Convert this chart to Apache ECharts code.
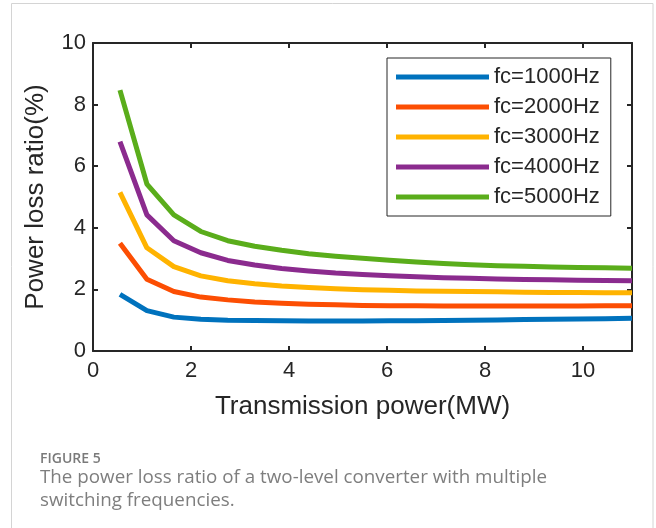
<!DOCTYPE html>
<html>
<head>
<meta charset="utf-8">
<script src="https://cdn.jsdelivr.net/npm/echarts@6/dist/echarts.min.js"></script>
<style>
  html, body { margin: 0; padding: 0; background: #fff; }
  #chart { width: 656px; height: 528px; }
</style>
</head>
<body>
<div id="chart"></div>
<script>
// transmission power (MW)
const power = [0.55, 1.1, 1.65, 2.2, 2.75, 3.3, 3.85, 4.4, 4.95, 5.5,
  6.05, 6.6, 7.15, 7.7, 8.25, 8.8, 9.35, 9.9, 10.45, 11];

// power loss ratio (%) per switching frequency
const fc1000 = [1.84, 1.31, 1.10, 1.03, 1.00, 0.99, 0.98, 0.97, 0.97, 0.97,
  0.98, 0.98, 0.99, 1.00, 1.01, 1.02, 1.03, 1.04, 1.05, 1.06];
const fc2000 = [3.50, 2.33, 1.93, 1.75, 1.66, 1.59, 1.55, 1.52, 1.50, 1.48,
  1.47, 1.47, 1.46, 1.46, 1.46, 1.46, 1.46, 1.46, 1.47, 1.47];
const fc3000 = [5.15, 3.35, 2.74, 2.44, 2.28, 2.18, 2.11, 2.06, 2.02, 1.99,
  1.97, 1.95, 1.94, 1.93, 1.92, 1.91, 1.90, 1.90, 1.89, 1.89];
const fc4000 = [6.80, 4.42, 3.58, 3.19, 2.94, 2.79, 2.68, 2.60, 2.53, 2.48,
  2.44, 2.41, 2.38, 2.36, 2.34, 2.32, 2.31, 2.30, 2.29, 2.28];
const fc5000 = [8.47, 5.42, 4.42, 3.88, 3.58, 3.40, 3.27, 3.16, 3.08, 3.01,
  2.95, 2.89, 2.84, 2.80, 2.77, 2.75, 2.73, 2.71, 2.70, 2.69];

const seriesNames = ['fc=1000Hz', 'fc=2000Hz', 'fc=3000Hz', 'fc=4000Hz', 'fc=5000Hz'];
const seriesValues = [fc1000, fc2000, fc3000, fc4000, fc5000];
const colors = ['#0072BD', '#FC4E03', '#FFB300', '#8B2B8E', '#5AAD1B'];

const xTicks = { min: 0, max: 11, interval: 2 };
const yTicks = { min: 0, max: 10, interval: 2 };

const ink = '#262626';
const font = 'Liberation Sans, Arial, sans-serif';

const chart = echarts.init(document.getElementById('chart'), null, { renderer: 'canvas' });

// box axes like matlab: ticks inside on all four sides
function frameAxis(pos, range, labels) {
  return {
    type: 'value',
    position: pos,
    min: range.min,
    max: range.max,
    interval: range.interval,
    axisLine: { show: true, onZero: false, lineStyle: { color: ink, width: 2 } },
    axisTick: { show: true, inside: true, length: 5, lineStyle: { color: ink, width: 2 } },
    axisLabel: labels ? {
      show: true, color: ink, fontSize: 22, fontFamily: font,
      margin: pos === 'bottom' ? 9 : 7, showMaxLabel: pos !== 'bottom'
    } : { show: false },
    splitLine: { show: false }
  };
}

const xBottom = frameAxis('bottom', xTicks, true);
xBottom.name = 'Transmission power(MW)';
xBottom.nameLocation = 'middle';
xBottom.nameGap = 43;
xBottom.nameTextStyle = { color: ink, fontSize: 26, fontFamily: font };

const yLeft = frameAxis('left', yTicks, true);
yLeft.name = 'Power loss ratio(%)';
yLeft.nameLocation = 'middle';
yLeft.nameGap = 44;
yLeft.nameTextStyle = { color: ink, fontSize: 26, fontFamily: font };

chart.setOption({
  animation: false,
  backgroundColor: '#fff',
  grid: { left: 93, top: 43, width: 539, height: 308, containLabel: false },
  xAxis: [xBottom, frameAxis('top', xTicks, false)],
  yAxis: [yLeft, frameAxis('right', yTicks, false)],
  legend: {
    orient: 'vertical',
    left: 387,
    top: 58,
    icon: 'rect',
    itemWidth: 93,
    itemHeight: 5,
    itemGap: 8,
    padding: [8, 11, 8, 9],
    borderColor: ink,
    borderWidth: 1,
    backgroundColor: '#fff',
    textStyle: { color: ink, fontSize: 22, fontFamily: font, lineHeight: 22 },
    data: seriesNames
  },
  series: seriesNames.map((name, i) => ({
    name: name,
    type: 'line',
    xAxisIndex: 0,
    yAxisIndex: 0,
    showSymbol: false,
    symbol: 'none',
    color: colors[i],
    lineStyle: { width: 5, color: colors[i], cap: 'butt', join: 'round' },
    data: power.map((p, j) => [p, seriesValues[i][j]])
  })),
  graphic: [
    {
      type: 'rect',
      silent: true,
      shape: { x: 11.5, y: 3.5, width: 641.5, height: 600 },
      style: { fill: 'none', stroke: '#d4d4d4', lineWidth: 1 }
    },
    {
      type: 'text',
      left: 40,
      top: 452,
      style: { text: 'FIGURE 5', fill: '#7a7a7a', font: '600 14px "Open Sans", sans-serif' }
    },
    {
      type: 'text',
      left: 40,
      top: 466,
      style: {
        text: 'The power loss ratio of a two-level converter with multiple\nswitching frequencies.',
        fill: '#7e7e7e',
        font: '18.8px "Open Sans", sans-serif',
        lineHeight: 23
      }
    }
  ]
});
</script>
</body>
</html>
